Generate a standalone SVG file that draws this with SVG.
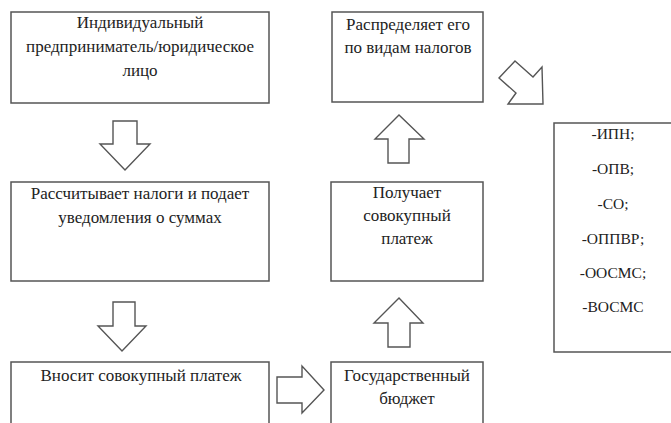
<svg xmlns="http://www.w3.org/2000/svg" width="671" height="423" viewBox="0 0 671 423">
<style>
.box{fill:#fff;stroke:#555;stroke-width:1.5}
.arr{fill:#fff;stroke:#555;stroke-width:1.4;stroke-linejoin:miter}
.t{font-size:17px;fill:#222;text-anchor:middle}
.l{font-size:15.5px;fill:#222;text-anchor:middle}
</style>
<rect width="671" height="423" fill="#fff"/>
<g font-family="Liberation Serif, Times New Roman, Times, DejaVu Serif, serif">
<g id="n1">
<rect class="box" x="11" y="12" width="258" height="91"/>
<text class="t" x="140" y="28">Индивидуальный</text>
<text class="t" x="140" y="52">предприниматель/юридическое</text>
<text class="t" x="140" y="76">лицо</text>
</g>
<g id="n2">
<rect class="box" x="11" y="182" width="258" height="99"/>
<text class="t" x="140" y="199">Рассчитывает налоги и подает</text>
<text class="t" x="140" y="223">уведомления о суммах</text>
</g>
<g id="n3">
<rect class="box" x="11" y="362" width="258" height="80"/>
<text class="t" x="141" y="381">Вносит совокупный платеж</text>
</g>
<g id="n4">
<rect class="box" x="331" y="362" width="152" height="80"/>
<text class="t" x="407" y="381">Государственный</text>
<text class="t" x="407" y="404">бюджет</text>
</g>
<g id="n5">
<rect class="box" x="331" y="182" width="152" height="99"/>
<text class="t" x="407" y="198">Получает</text>
<text class="t" x="407" y="221">совокупный</text>
<text class="t" x="407" y="244">платеж</text>
</g>
<g id="n6">
<rect class="box" x="332" y="12" width="151" height="90"/>
<text class="t" x="408" y="30">Распределяет его</text>
<text class="t" x="408" y="53">по видам налогов</text>
</g>
<g id="n7">
<rect class="box" x="554" y="123" width="130" height="229"/>
<text class="l" x="613" y="139">-ИПН;</text>
<text class="l" x="613" y="174">-ОПВ;</text>
<text class="l" x="613" y="209">-СО;</text>
<text class="l" x="613" y="244">-ОППВР;</text>
<text class="l" x="613" y="278">-ООСМС;</text>
<text class="l" x="613" y="312">-ВОСМС</text>
</g>
</g>
<g id="connectors">
<polygon class="arr" points="113,121 137,121 137,144 150,144 125,170 100,144 113,144"/>
<polygon class="arr" points="113,302 135,302 135,326 146,326 122,351 98,326 113,326"/>
<polygon class="arr" points="277,377 302,377 302,366 324,390 302,413 302,403 277,403"/>
<polygon class="arr" points="388,347 410,347 410,323 423,323 399,298 374,323 388,323"/>
<polygon class="arr" points="388,163 409,163 409,139 424,139 399,115 375,139 388,139"/>
<polygon class="arr" points="515,61 533,77 542,67 543,104 508,104 516,93 499,78"/>
</g>
</svg>
